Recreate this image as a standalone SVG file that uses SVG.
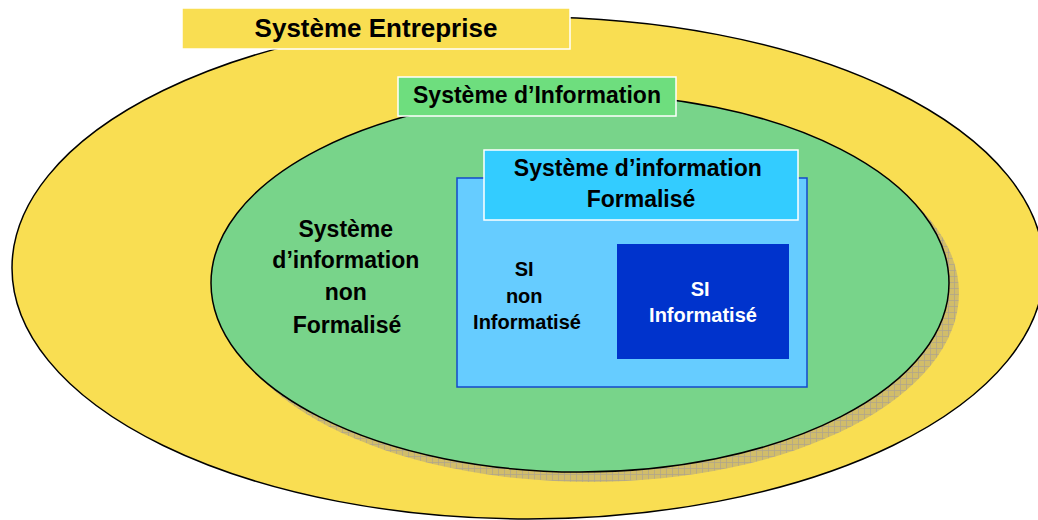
<svg xmlns="http://www.w3.org/2000/svg" width="1038" height="520" viewBox="0 0 1038 520">
<style>
.t{font-family:"Liberation Sans",Arial,sans-serif;font-weight:bold;text-anchor:middle;fill:#000}
.w{fill:#fff}
.lbl{stroke:#ffffff;stroke-width:1.5}
.ell{stroke:#000;stroke-width:1.5}
</style>
<defs>
<pattern id="hatch" width="6" height="6" patternUnits="userSpaceOnUse">
<rect width="6" height="6" fill="#D1BD6A"/>
<path d="M0 0.5H6M0.5 0V6" stroke="#ADA48E" stroke-width="0.7"/>
</pattern>
</defs>
<g id="systeme-entreprise">
<ellipse cx="528" cy="268" rx="516" ry="251" fill="#F9DE52" class="ell"/>
<rect x="182" y="8" width="388" height="41" fill="#F9DE52" class="lbl"/>
<text x="376" y="37" class="t" font-size="26">Système Entreprise</text>
</g>
<g id="systeme-information">
<ellipse cx="590" cy="293" rx="369" ry="189" fill="url(#hatch)"/>
<ellipse cx="580" cy="283" rx="369" ry="189" fill="#78D48A" class="ell"/>
<rect x="398" y="77" width="278" height="39" fill="#6EDE7E" class="lbl"/>
<text x="537" y="103" class="t" font-size="23">Système d’Information</text>
</g>
<g id="si-non-formalise">
<text class="t" font-size="23">
<tspan x="349" y="237">Système</tspan>
<tspan x="349" y="268">d’information</tspan>
<tspan x="349" y="300">non</tspan>
<tspan x="347" y="333">Formalisé</tspan>
</text>
</g>
<g id="si-formalise">
<rect x="457" y="178" width="350" height="209" fill="#66CCFF" stroke="#1448CC" stroke-width="1.5"/>
<rect x="484" y="150" width="314" height="70" fill="#33CCFF" class="lbl"/>
<text class="t" font-size="23">
<tspan x="641" y="176">Système d’information</tspan>
<tspan x="641" y="207">Formalisé</tspan>
</text>
</g>
<g id="si-non-informatise">
<text class="t" font-size="20">
<tspan x="527" y="276">SI</tspan>
<tspan x="527" y="303">non</tspan>
<tspan x="527" y="329">Informatisé</tspan>
</text>
</g>
<g id="si-informatise">
<rect x="617" y="244" width="172" height="115" fill="#0033CC"/>
<text class="t w" font-size="20">
<tspan x="703" y="296">SI</tspan>
<tspan x="703" y="322">Informatisé</tspan>
</text>
</g>
<g id="connectors"/>
</svg>
